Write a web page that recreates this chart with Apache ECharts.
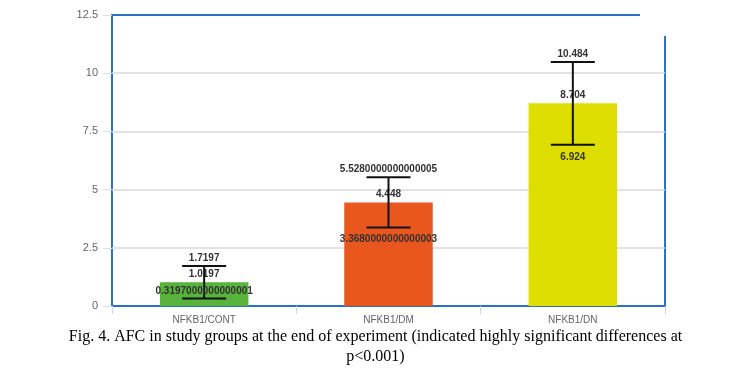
<!DOCTYPE html>
<html>
<head>
<meta charset="utf-8">
<script src="https://cdn.jsdelivr.net/npm/echarts@6/dist/echarts.min.js"></script>
<style>
    html, body { margin: 0; padding: 0; background: #fff; }
    #chart { width: 751px; height: 375px; }
</style>
</head>
<body>
<div id="chart"></div>
<script>
// group names, bar means and error half-widths
const categories = ['NFKB1/CONT', 'NFKB1/DM', 'NFKB1/DN'];
const means = [1.0197, 4.448, 8.704];
const errors = [0.7, 1.08, 1.78];
const barColors = ['#57b33b', '#e9561e', '#dede00'];
const yMax = 12.5;
const yStep = 2.5;

const captionLines = [
    'Fig. 4. AFC in study groups at the end of experiment (indicated highly significant differences at',
    'p<0.001)'
];

const labelFont = 'bold 10px "Liberation Sans", Arial, sans-serif';
const captionFont = '16px "Liberation Serif", "Times New Roman", serif';

// low / high ends, computed the same way the original tool did (keeps its float noise)
const errorData = means.map((m, i) => [i, m - errors[i], m + errors[i]]);

const chart = echarts.init(document.getElementById('chart'));

chart.setOption({
    animation: false,
    textStyle: { fontFamily: '"Liberation Sans", Arial, sans-serif' },
    grid: {
        left: 112, right: 86, top: 15, bottom: 69,
        show: true,
        borderColor: '#2a72c8',
        borderWidth: 2,
        backgroundColor: 'transparent'
    },
    xAxis: {
        type: 'category',
        data: categories,
        axisLine: { show: false },
        axisTick: { show: true, length: 8, lineStyle: { color: '#ccd6eb' } },
        axisLabel: { color: '#666', fontSize: 10, margin: 9 }
    },
    yAxis: {
        type: 'value',
        min: 0,
        max: yMax,
        interval: yStep,
        axisLine: { show: false },
        axisTick: { show: true, length: 9, lineStyle: { color: '#e0e0e0' } },
        axisLabel: { color: '#666', fontSize: 11, margin: 14 },
        splitLine: { showMinLine: false, showMaxLine: false, lineStyle: { color: '#dadada', width: 1.5 } }
    },
    series: [
        {
            type: 'bar',
            z: 2,
            barWidth: '48%',
            data: means.map((v, i) => ({ value: v, itemStyle: { color: barColors[i] } })),
            label: {
                show: true,
                position: 'top',
                distance: 3,
                color: '#333',
                fontSize: 10,
                fontWeight: 'bold'
            }
        },
        {
            type: 'custom',
            z: 5,
            data: errorData,
            renderItem(params, api) {
                const x = api.value(0);
                const lo = api.value(1);
                const hi = api.value(2);
                const pLo = api.coord([x, lo]);
                const pHi = api.coord([x, hi]);
                const half = 22;
                const cs = params.coordSys;
                const bottom = cs.y + cs.height;
                const lineStyle = { stroke: '#111', lineWidth: 2 };
                const loLabelY = Math.min(pLo[1] + 12, bottom - 15);
                return {
                    type: 'group',
                    children: [
                        { type: 'line', shape: { x1: pHi[0], y1: pHi[1], x2: pLo[0], y2: pLo[1] }, style: lineStyle },
                        { type: 'line', shape: { x1: pHi[0] - half, y1: pHi[1], x2: pHi[0] + half, y2: pHi[1] }, style: lineStyle },
                        { type: 'line', shape: { x1: pLo[0] - half, y1: pLo[1], x2: pLo[0] + half, y2: pLo[1] }, style: lineStyle },
                        {
                            type: 'text',
                            style: { text: String(hi), x: pHi[0], y: pHi[1] - 8, align: 'center', verticalAlign: 'middle', font: labelFont, fill: '#333' }
                        },
                        {
                            type: 'text',
                            style: { text: String(lo), x: pLo[0], y: loLabelY, align: 'center', verticalAlign: 'middle', font: labelFont, fill: '#333' }
                        }
                    ]
                };
            }
        }
    ],
    graphic: [
        // white patch behind the menu button, breaks the frame like the original
        { type: 'rect', left: 640, top: 11, z: 10, shape: { width: 30, height: 25 }, style: { fill: '#fff' } },
        {
            type: 'group', left: 645, top: 20, z: 11,
            children: [
                { type: 'rect', shape: { x: 0, y: 0, width: 18, height: 2.5 }, style: { fill: '#555' } },
                { type: 'rect', shape: { x: 0, y: 5, width: 18, height: 2.5 }, style: { fill: '#555' } },
                { type: 'rect', shape: { x: 0, y: 10, width: 18, height: 2.5 }, style: { fill: '#555' } }
            ]
        },
        ...captionLines.map((t, i) => ({
            type: 'text',
            left: 'center',
            top: 329 + i * 20,
            style: { text: t, fill: '#000', font: captionFont }
        }))
    ]
});
</script>
</body>
</html>
